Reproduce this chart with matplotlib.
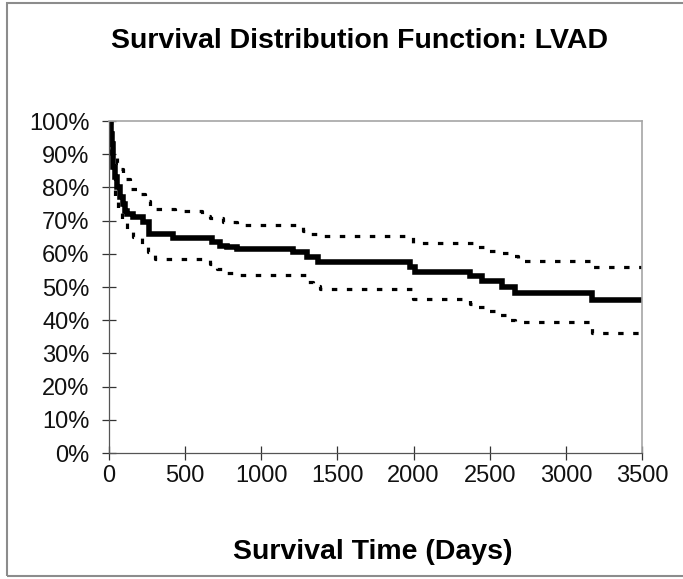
import matplotlib.pyplot as plt
from matplotlib.patches import Rectangle
from matplotlib.ticker import PercentFormatter

plt.rcParams["font.family"] = ["Liberation Sans", "DejaVu Sans"]

# survival estimate (days, percent), step function
surv_days = [0, 10, 20, 28, 40, 50, 72, 90, 105, 118, 160, 225, 263, 420, 674, 730, 775, 838,
             1209, 1298, 1375, 1977, 2010, 2371, 2447, 2579, 2666, 3170, 3540]
surv_pct = [100, 96, 93, 86, 83, 80, 77, 75, 73, 72, 71, 69.5, 66, 64.7, 63.5, 62.5, 62, 61.3,
            60.4, 59, 57.5, 56, 54.6, 53.3, 51.8, 50, 48.3, 46, 46]

# upper confidence limit
upper_days = [0, 15, 28, 50, 72, 94, 138, 190, 236, 269, 433, 608, 663, 750, 838,
              1276, 1320, 1386, 1997, 2414, 2491, 2568, 2634, 2688, 3170, 3540]
upper_pct = [100, 94, 90, 87.5, 85.5, 82.5, 79.5, 78, 76, 73.5, 73, 71.5, 70.8, 69.6, 68.8,
             67, 66, 65.3, 63.2, 62.1, 60.9, 60.3, 59.3, 57.9, 56, 56]

# lower confidence limit
lower_days = [0, 12, 25, 39, 60, 83, 120, 160, 215, 258, 302, 663, 707, 775, 860,
              1298, 1340, 1386, 1997, 2371, 2420, 2469, 2556, 2610, 2666, 3170, 3540]
lower_pct = [100, 90, 84, 76.5, 73, 70, 67.5, 65, 62.5, 60.5, 58.5, 57, 55.5, 54.3, 53.5,
             51.5, 50.3, 49.3, 46.5, 45, 44, 42.9, 41.5, 40.2, 39.4, 36, 36]


def main() -> None:
    fig = plt.figure(figsize=(6.83, 5.79), dpi=100)
    fig.patches.append(Rectangle((7 / 683, 3 / 579), 690 / 683, 573 / 579,
                                 transform=fig.transFigure, fill=False,
                                 edgecolor="#8c8c8c", linewidth=1.5))
    ax = fig.add_axes([0.1596, 0.2176, 0.7804, 0.5734])

    ax.plot(upper_days, upper_pct, drawstyle="steps-post", color="black",
            linewidth=2.3, linestyle=(0, (1.7, 3.0)))
    ax.plot(lower_days, lower_pct, drawstyle="steps-post", color="black",
            linewidth=2.3, linestyle=(0, (1.7, 3.0)))
    ax.plot(surv_days, surv_pct, drawstyle="steps-post", color="black",
            linewidth=4.0, solid_joinstyle="miter")

    ax.set_xlim(0, 3500)
    ax.set_ylim(0, 100)
    ax.set_xticks(range(0, 3501, 500))
    ax.set_yticks(range(0, 101, 10))
    ax.yaxis.set_major_formatter(PercentFormatter(decimals=0))
    ax.tick_params(direction="inout", length=10, width=0.9, labelsize=17, colors="#333333",
                   labelcolor="#111111")
    ax.tick_params(axis="x", pad=3.5)
    ax.tick_params(axis="y", pad=9)
    for side in ("top", "right"):
        ax.spines[side].set_color("#a6a6a6")
        ax.spines[side].set_linewidth(1.2)
    for side in ("left", "bottom"):
        ax.spines[side].set_color("#555555")
        ax.spines[side].set_linewidth(0.9)

    fig.text(0.527, 0.93, "Survival Distribution Function: LVAD", ha="center", va="center",
             fontsize=20.5, fontweight="bold")
    fig.text(0.546, 0.047, "Survival Time (Days)", ha="center", va="center",
             fontsize=20.5, fontweight="bold")

    fig.savefig("out.png", dpi=100)


if __name__ == "__main__":
    main()
